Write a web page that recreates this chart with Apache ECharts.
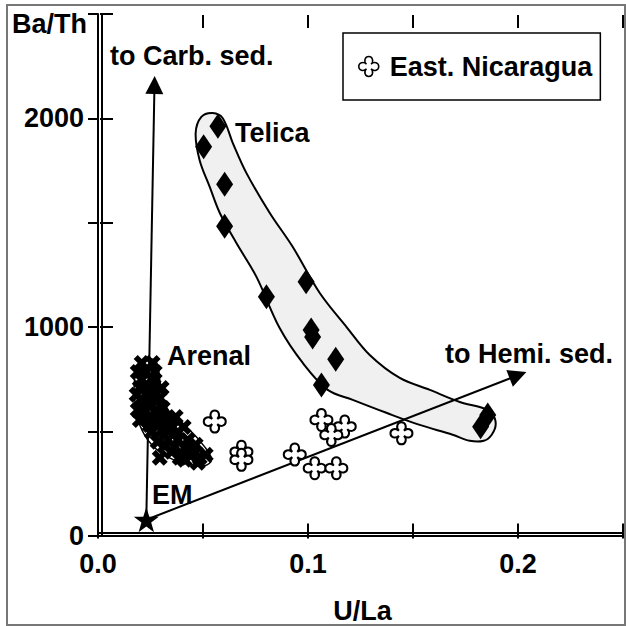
<!DOCTYPE html>
<html>
<head>
<meta charset="utf-8">
<script src="https://cdn.jsdelivr.net/npm/echarts@6/dist/echarts.min.js"></script>
<style>
  html, body { margin: 0; padding: 0; background: #fff; }
  #chart { width: 626px; height: 626px; }
</style>
</head>
<body>
<div id="chart"></div>
<script>
// U/La vs Ba/Th for Central American arc volcanics

// Telica samples [U/La, Ba/Th]
const telicaPoints = [
  [0.0571, 1963], [0.0503, 1864], [0.0603, 1685], [0.0603, 1484],
  [0.0991, 1218], [0.0802, 1146], [0.1015, 987], [0.1022, 953],
  [0.1132, 846], [0.1064, 723], [0.1856, 580], [0.1822, 523]
];

// Outline of the Telica field
const telicaEnvelope = [
  [0.0546, 2026], [0.0594, 2001], [0.0642, 1882], [0.0707, 1738], [0.0818, 1547],
  [0.0927, 1385], [0.1056, 1164], [0.1183, 1002], [0.1294, 867], [0.1437, 757],
  [0.1580, 700], [0.1723, 642], [0.1832, 613], [0.1875, 589], [0.1894, 537],
  [0.1875, 485], [0.1837, 456], [0.1770, 456], [0.1689, 485], [0.1532, 532],
  [0.1373, 590], [0.1213, 652], [0.1094, 700], [0.0975, 829], [0.0865, 996],
  [0.0754, 1242], [0.0659, 1403], [0.0580, 1547], [0.0532, 1672], [0.0484, 1800],
  [0.0465, 1929], [0.0492, 2007]
];

// Arenal samples [U/La, Ba/Th]
const arenalPoints = [
  [0.0208, 829], [0.0260, 829], [0.0208, 748], [0.0260, 748], [0.0199, 710],
  [0.0237, 690], [0.0275, 685], [0.0203, 652], [0.0246, 637], [0.0294, 661],
  [0.0222, 604], [0.0270, 594], [0.0308, 613], [0.0237, 556], [0.0284, 546],
  [0.0332, 566], [0.0370, 570], [0.0256, 499], [0.0303, 508], [0.0351, 518],
  [0.0408, 522], [0.0284, 451], [0.0332, 461], [0.0380, 461], [0.0294, 375],
  [0.0351, 403], [0.0413, 422], [0.0389, 375], [0.0446, 389], [0.0475, 351],
  [0.0513, 389], [0.0465, 437],
  [0.0189, 786], [0.0227, 786], [0.0270, 786], [0.0184, 676], [0.0227, 723],
  [0.0265, 719], [0.0303, 709], [0.0189, 604], [0.0256, 671], [0.0294, 575],
  [0.0199, 556], [0.0246, 532], [0.0332, 508], [0.0380, 498], [0.0318, 431],
  [0.0365, 427], [0.0427, 460], [0.0460, 403], [0.0413, 365], [0.0484, 375]
];

// Outline of the Arenal field
const arenalEnvelope = [
  [0.0237, 853], [0.0280, 829], [0.0294, 748], [0.0308, 661], [0.0351, 580],
  [0.0437, 508], [0.0508, 427], [0.0541, 365], [0.0508, 336], [0.0437, 341],
  [0.0341, 374], [0.0256, 437], [0.0199, 532], [0.0175, 652], [0.0175, 757],
  [0.0199, 829]
];

// East Nicaragua samples [U/La, Ba/Th]
const eastNicaraguaPoints = [
  [0.0556, 548], [0.0683, 403], [0.0683, 365], [0.0937, 390], [0.1064, 556],
  [0.1175, 524], [0.1111, 484], [0.1445, 492], [0.1032, 325], [0.1135, 325]
];

// End member and mixing directions
const endMember = [[0.023, 78]];
const carbArrow = [[0.023, 78], [0.0269, 2160]];
const hemiArrow = [[0.023, 78], [0.200, 770]];

// Tick labels
const xTickValues = [0, 0.1, 0.2];
const xTickLabels = ['0.0', '0.1', '0.2'];
const yTickValues = [0, 1000, 2000];
const yTickLabels = ['0', '1000', '2000'];

const FONT = '"Liberation Sans", Arial, Helvetica, sans-serif';
const FS = 27;

const labelFor = (vals, texts) => v => {
  const i = vals.findIndex(t => Math.abs(t - v) < 1e-9);
  return i < 0 ? '' : texts[i];
};

const xCommon = { type: 'value', min: 0, max: 0.25, interval: 0.05, splitLine: { show: false } };
const yCommon = { type: 'value', min: 0, max: 2500, interval: 500, splitLine: { show: false } };
const blackLine = { show: true, lineStyle: { color: '#000', width: 2 } };
const noLine = { show: false };

const X_PATH = 'path://M3 0 L6 3 L9 0 L12 3 L9 6 L12 9 L9 12 L6 9 L3 12 L0 9 L3 6 L0 3 Z';
const CROSS_PATH = 'path://M9.5 9.5 C6 6 8 1 12 1 C16 1 18 6 14.5 9.5 C18 6 23 8 23 12 C23 16 18 18 14.5 14.5 C18 18 16 23 12 23 C8 23 6 18 9.5 14.5 C6 18 1 16 1 12 C1 8 6 6 9.5 9.5 Z';
const STAR_PATH = 'path://M12 0 L14.9 8.6 L24 8.6 L16.7 14 L19.4 22.8 L12 17.5 L4.6 22.8 L7.3 14 L0 8.6 L9.1 8.6 Z';

function envelopeSeries(name, pts, fill, lw) {
  return {
    type: 'custom',
    name: name,
    coordinateSystem: 'cartesian2d',
    silent: true,
    z: 1,
    data: [pts[0]],
    renderItem: (params, api) => ({
      type: 'polygon',
      shape: { points: pts.map(p => api.coord(p)), smooth: 0.35 },
      style: { fill: fill, stroke: '#000', lineWidth: lw }
    })
  };
}

function textEl(text, x, y, align) {
  return {
    type: 'text', x: x, y: y, silent: true,
    style: { text: text, fill: '#000', font: 'bold ' + FS + 'px ' + FONT, textAlign: align || 'left', textVerticalAlign: 'middle' }
  };
}

const chart = echarts.init(document.getElementById('chart'), null, { renderer: 'svg' });

chart.setOption({
  animation: false,
  backgroundColor: '#fff',
  grid: { left: 98, top: 14, width: 525, height: 522 },
  xAxis: [
    Object.assign({}, xCommon, {
      position: 'bottom', offset: -3.5, axisLine: blackLine,
      axisTick: { show: true, inside: false, length: 6, lineStyle: { color: '#000', width: 2 } },
      axisLabel: { show: true, margin: 18, color: '#000', fontFamily: FONT, fontSize: FS, fontWeight: 'bold', formatter: labelFor(xTickValues, xTickLabels) }
    }),
    Object.assign({}, xCommon, {
      position: 'bottom', offset: -3.5, axisLine: noLine,
      axisTick: { show: true, inside: true, length: 9, lineStyle: { color: '#000', width: 2 } },
      axisLabel: { show: false }
    }),
    Object.assign({}, xCommon, {
      position: 'top', offset: 3.5, axisLine: blackLine,
      axisTick: { show: false }, axisLabel: { show: false }
    }),
    Object.assign({}, xCommon, {
      position: 'top', offset: -1, axisLine: noLine,
      axisTick: { show: true, inside: true, length: 13, lineStyle: { color: '#000', width: 2 } },
      axisLabel: { show: false }
    })
  ],
  yAxis: [
    Object.assign({}, yCommon, {
      position: 'left', offset: -4, axisLine: blackLine,
      axisTick: { show: true, inside: false, length: 2, lineStyle: { color: '#000', width: 2 } },
      axisLabel: { show: true, margin: 18, color: '#000', fontFamily: FONT, fontSize: FS, fontWeight: 'bold', formatter: labelFor(yTickValues, yTickLabels) }
    }),
    Object.assign({}, yCommon, {
      position: 'left', offset: -4, axisLine: noLine,
      axisTick: { show: true, inside: true, length: 11, lineStyle: { color: '#000', width: 2 } },
      axisLabel: { show: false }
    }),
    Object.assign({}, yCommon, {
      position: 'right', offset: 0, axisLine: blackLine,
      axisTick: { show: true, inside: true, length: 10, lineStyle: { color: '#000', width: 2 } },
      axisLabel: { show: false }
    })
  ],
  legend: {
    data: ['East. Nicaragua'],
    left: 343, top: 33,
    orient: 'vertical',
    padding: [20, 8, 20, 15],
    itemWidth: 20, itemHeight: 20,
    borderColor: '#000', borderWidth: 1.5, borderRadius: 0,
    backgroundColor: '#fff',
    selectedMode: false,
    itemStyle: { borderWidth: 1.5 },
    textStyle: { color: '#000', fontFamily: FONT, fontSize: FS, fontWeight: 'bold', padding: [0, 0, 0, 6] }
  },
  series: [
    envelopeSeries('Telica field', telicaEnvelope, '#f0f0f0', 2),
    envelopeSeries('Arenal field', arenalEnvelope, 'none', 1.5),
    {
      type: 'lines', name: 'mixing', coordinateSystem: 'cartesian2d', silent: true, z: 2,
      symbol: ['none', 'triangle'], symbolSize: 18,
      lineStyle: { color: '#000', width: 2, opacity: 1, curveness: 0 },
      data: [{ coords: carbArrow }, { coords: hemiArrow }]
    },
    {
      type: 'scatter', name: 'Telica', z: 3, silent: true,
      symbol: 'diamond', symbolSize: [17, 25],
      itemStyle: { color: '#000', opacity: 1 },
      data: telicaPoints
    },
    {
      type: 'scatter', name: 'Arenal', z: 3, silent: true,
      symbol: X_PATH, symbolSize: 16,
      itemStyle: { color: '#000', opacity: 1 },
      data: arenalPoints
    },
    {
      type: 'scatter', name: 'East. Nicaragua', z: 5, silent: true,
      symbol: CROSS_PATH, symbolSize: 22,
      itemStyle: { color: '#fff', borderColor: '#000', borderWidth: 2, opacity: 1 },
      data: eastNicaraguaPoints
    },
    {
      type: 'scatter', name: 'EM', z: 5, silent: true,
      symbol: STAR_PATH, symbolSize: 25,
      itemStyle: { color: '#000', opacity: 1 },
      data: endMember
    }
  ],
  graphic: [
    { type: 'rect', silent: true, shape: { x: 7, y: 5, width: 618, height: 620 }, style: { fill: 'none', stroke: '#777', lineWidth: 2 } },
    textEl('Ba/Th', 12, 24),
    textEl('to Carb. sed.', 110, 56),
    textEl('Telica', 235, 133),
    textEl('Arenal', 167, 356),
    textEl('EM', 152, 495),
    textEl('to Hemi. sed.', 445, 354),
    textEl('U/La', 362.5, 611, 'center')
  ]
});
</script>
</body>
</html>
